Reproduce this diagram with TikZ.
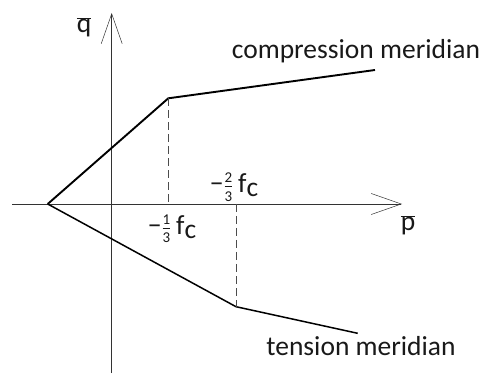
\documentclass[tikz,border=0pt]{standalone}
\usepackage{fontspec}
\setmainfont{Carlito}
\usetikzlibrary{arrows.meta}
\newcommand{\qbar}{$\overline{\hbox{q}}$}
\newcommand{\pbar}{$\overline{\hbox{p}}$}
\newcommand{\frc}[2]{{−}$\frac{\hbox{\fontsize{15}{15}\selectfont #1}}{\hbox{\fontsize{15}{15}\selectfont #2}}$\,f\raisebox{-0.3ex}{c}}
\begin{document}
\begin{tikzpicture}[x=1pt,y=-1pt,
  axis/.style={line width=0.6pt,draw=black!80,-{Straight Barb[length=30pt,width=21pt,line width=0.5pt]}},
  meridian/.style={line width=1.9pt,line join=round},
  guide/.style={line width=0.6pt,dash pattern=on 8pt off 4pt,draw=black!70},
  lbl/.style={font=\fontsize{27.5}{29}\selectfont,inner sep=0pt,text=black!90}]
\useasboundingbox (0,0) rectangle (482,374);
\coordinate (xs) at (12,204);
\coordinate (xe) at (402,204);
\coordinate (ys) at (111.7,373);
\coordinate (ye) at (111.7,13);
\coordinate (o) at (47.7,204);
\coordinate (c1) at (168.3,98.3);
\coordinate (c2) at (375,70);
\coordinate (t1) at (236,306.7);
\coordinate (t2) at (357.7,333.3);
\coordinate (c1b) at (168.3,204);
\coordinate (t1b) at (236,204);
\draw[axis] (xs) -- (xe);
\draw[axis] (ys) -- (ye);
\draw[meridian] (o) -- (c1) -- (c2);
\draw[meridian,line width=1.5pt] (o) -- (t1) -- (t2);
\draw[guide] (c1) -- (c1b);
\draw[guide] (t1b) -- (t1);
\node[lbl] (q) at (84,27) {\qbar};
\node[lbl] (p) at (408,225) {\pbar};
\node[lbl] (cm) at (356,51) {compression meridian};
\node[lbl] (tm) at (361,346) {tension meridian};
\node[lbl] (f1) at (172,229) {\frc{1}{3}};
\node[lbl] (f2) at (234,187) {\frc{2}{3}};
\end{tikzpicture}
\end{document}
